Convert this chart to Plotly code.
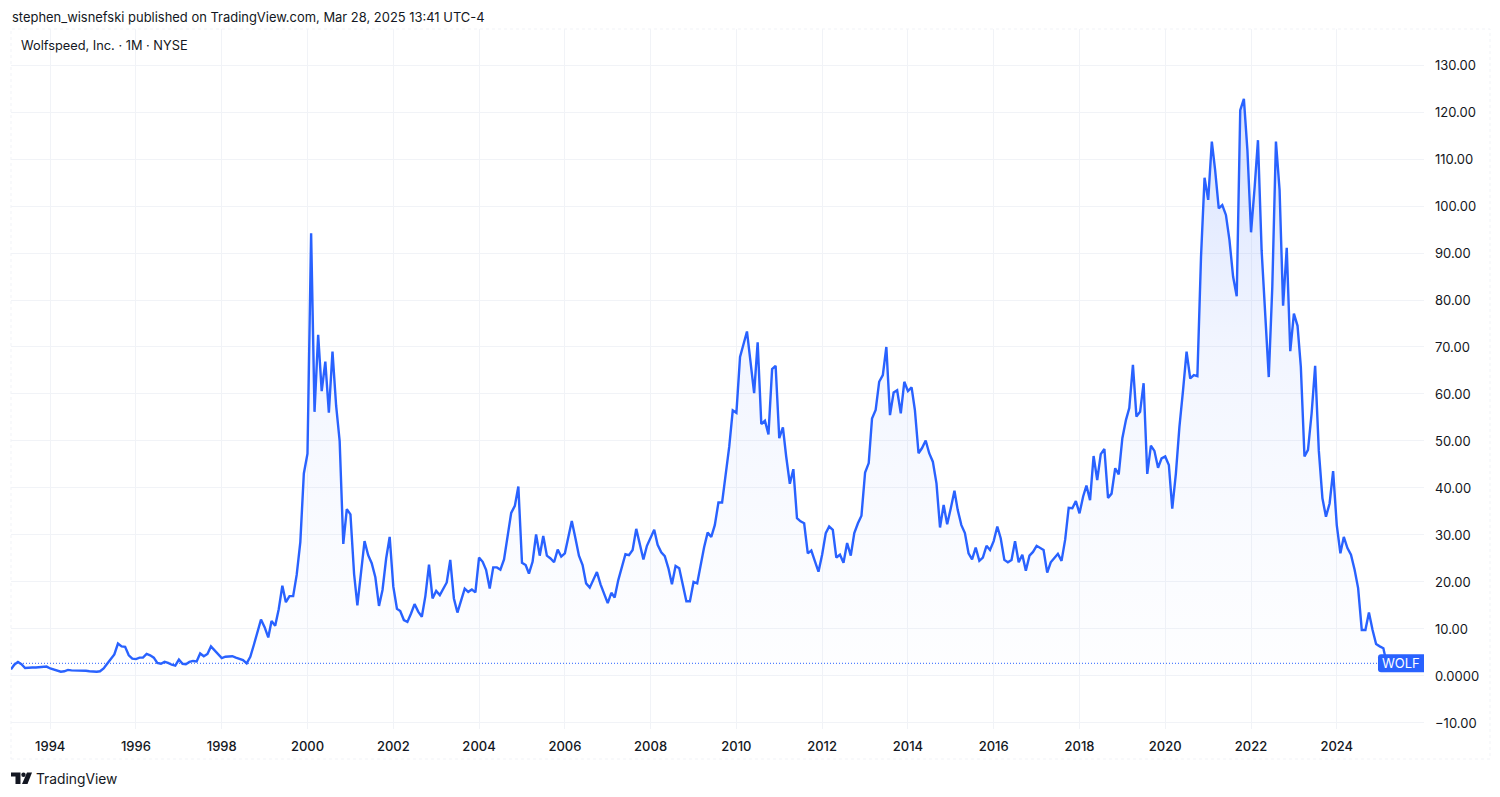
import pandas as pd
import plotly.graph_objects as go

# the page puts an 8px margin round the figure, so layout pixels are page pixels minus OFF
OFF = 8
W, H = 1500 - OFF, 797 - OFF
PL, PR, PT, PB = 11 - OFF, 1424 - OFF, 29 - OFF, 729 - OFF

close_1993 = [1.4, 2.4, 3.0, 2.5, 1.7, 1.8, 1.8, 1.8, 1.9, 2.0, 2.0]
close_1994 = [1.6, 1.4, 1.2, 0.9, 1.0, 1.3, 1.2, 1.2, 1.2, 1.2, 1.1, 1.0]
close_1995 = [0.9, 0.9, 1.0, 1.6, 2.6, 3.6, 4.6, 6.9, 6.3, 6.2, 4.4, 3.7]
close_1996 = [3.6, 3.9, 3.9, 4.7, 4.4, 3.9, 2.8, 2.6, 3.0, 2.8, 2.4, 2.2]
close_1997 = [3.5, 2.6, 2.5, 3.0, 3.2, 3.1, 4.8, 4.2, 4.7, 6.3, 5.4, 4.6]
close_1998 = [3.8, 4.1, 4.2, 4.2, 3.9, 3.7, 3.4, 2.7, 4.1, 6.6, 9.2, 12.0]
close_1999 = [10.4, 8.2, 11.7, 10.7, 14.2, 19.2, 15.7, 17.0, 17.0, 21.5, 28.5, 43.1]
close_2000 = [47.3, 94.2, 56.2, 72.6, 60.6, 66.9, 56.0, 69.0, 57.5, 50.0, 28.1, 35.5]
close_2001 = [34.4, 21.7, 15.0, 22.5, 28.7, 25.7, 24.0, 21.0, 14.9, 18.3, 25.0, 29.6]
close_2002 = [19.0, 14.3, 13.8, 11.9, 11.5, 13.3, 15.3, 13.7, 12.6, 17.0, 23.7, 16.5]
close_2003 = [18.1, 17.2, 18.6, 19.9, 24.7, 16.5, 13.5, 15.8, 18.6, 17.9, 18.4, 17.8]
close_2004 = [25.2, 24.3, 22.6, 18.6, 23.1, 23.1, 22.6, 24.8, 29.6, 34.7, 36.2, 40.3]
close_2005 = [24.1, 23.6, 21.8, 24.3, 30.1, 25.6, 29.8, 25.6, 25.0, 24.2, 26.9, 25.4]
close_2006 = [26.1, 29.6, 33.0, 29.3, 25.6, 23.6, 19.7, 18.8, 20.4, 22.1, 19.5, 17.6]
close_2007 = [15.5, 17.7, 16.7, 20.4, 22.9, 25.9, 25.7, 26.8, 31.3, 28.2, 24.8, 27.7]
close_2008 = [29.3, 31.1, 27.9, 26.3, 25.5, 22.9, 19.5, 23.4, 22.9, 19.3, 15.9, 15.9]
close_2009 = [20.0, 19.7, 23.6, 27.4, 30.5, 29.6, 32.1, 36.9, 36.9, 43.0, 48.8, 56.5]
close_2010 = [56.0, 67.9, 70.4, 73.3, 66.9, 60.2, 71.0, 53.6, 54.3, 51.4, 65.3, 66.0]
close_2011 = [50.6, 52.9, 46.7, 40.9, 44.0, 33.6, 32.9, 32.5, 26.1, 26.7, 24.4, 22.2]
close_2012 = [25.8, 30.4, 31.8, 31.1, 25.2, 25.8, 24.1, 28.3, 25.6, 30.4, 32.5, 34.1]
close_2013 = [43.3, 45.3, 54.8, 56.6, 62.6, 64.0, 70.0, 55.5, 60.3, 60.8, 55.9, 62.6]
close_2014 = [60.6, 61.4, 56.6, 47.4, 48.5, 50.1, 47.4, 45.6, 41.0, 31.6, 36.4, 32.3]
close_2015 = [35.7, 39.4, 35.3, 32.1, 30.4, 26.1, 24.8, 27.3, 24.5, 25.2, 27.7, 26.8]
close_2016 = [28.7, 31.8, 29.3, 24.7, 24.2, 24.7, 28.7, 24.2, 25.8, 22.4, 25.6, 26.4]
close_2017 = [27.7, 27.2, 26.8, 22.0, 24.2, 25.1, 26.0, 24.5, 29.0, 35.8, 35.7, 37.2]
close_2018 = [34.6, 38.2, 40.5, 37.4, 46.8, 41.7, 47.2, 48.3, 37.9, 38.8, 44.2, 42.9]
close_2019 = [50.6, 54.5, 57.0, 66.2, 55.2, 56.2, 62.3, 43.0, 49.0, 47.9, 44.3, 46.3]
close_2020 = [46.7, 44.9, 35.6, 43.1, 53.0, 60.8, 69.0, 63.3, 64.0, 63.8, 89.2, 106.0]
close_2021 = [101.3, 113.7, 107.7, 99.5, 100.2, 98.1, 92.8, 85.0, 80.8, 120.4, 122.8, 111.9]
close_2022 = [94.4, 104.1, 114.0, 90.6, 75.8, 63.6, 82.8, 113.7, 103.4, 78.8, 91.1, 69.1]
close_2023 = [77.1, 74.5, 65.8, 46.7, 48.1, 55.9, 66.0, 48.0, 37.8, 33.9, 36.7, 43.6]
close_2024 = [32.1, 26.1, 29.6, 27.2, 25.8, 22.6, 18.7, 9.8, 9.8, 13.5, 9.8, 6.8]
close_2025 = [6.3, 5.9, 2.7]

closes = (close_1993 + close_1994 + close_1995 + close_1996 + close_1997 + close_1998
          + close_1999 + close_2000 + close_2001 + close_2002 + close_2003 + close_2004
          + close_2005 + close_2006 + close_2007 + close_2008 + close_2009 + close_2010
          + close_2011 + close_2012 + close_2013 + close_2014 + close_2015 + close_2016
          + close_2017 + close_2018 + close_2019 + close_2020 + close_2021 + close_2022
          + close_2023 + close_2024 + close_2025)
dates = pd.date_range("1993-02-01", periods=len(closes), freq="MS")

year_ticks = list(range(1994, 2025, 2))
price_ticks = [-10, 0, 10, 20, 30, 40, 50, 60, 70, 80, 90, 100, 110, 120, 130]
price_labels = ["−10.00", "0.0000", "10.00", "20.00", "30.00", "40.00", "50.00", "60.00",
                "70.00", "80.00", "90.00", "100.00", "110.00", "120.00", "130.00"]
last_price = closes[-1]

BLUE = "#2962FF"
GRID = "#f1f3f7"
TEXT = "#131722"
FONT = "Inter, 'Liberation Sans', sans-serif"


def px(x):
    return (x - OFF - PL) / (PR - PL)


def py(y):
    return (PB - (y - OFF)) / (PB - PT)


fig = go.Figure()
fig.add_trace(go.Scatter(
    x=dates, y=closes, mode="lines",
    line=dict(color=BLUE, width=2.4, shape="linear"),
    fill="tozeroy",
    fillgradient=dict(type="vertical", start=-11, stop=122.8,
                      colorscale=[[0, "rgba(41,98,255,0.0)"], [0.3, "rgba(41,98,255,0.025)"],
                                  [0.6, "rgba(41,98,255,0.06)"], [1, "rgba(41,98,255,0.18)"]]),
    hoverinfo="skip", showlegend=False,
))

annotations = [
    dict(text="stephen_wisnefski published on TradingView.com, Mar 28, 2025 13:41 UTC-4",
         x=px(10.5), y=py(17), font=dict(size=12.95, color=TEXT)),
    dict(text="Wolfspeed, Inc. · 1M · NYSE", x=px(19.5), y=py(46), font=dict(size=12.8, color=TEXT)),
    dict(text="TradingView", x=px(35), y=py(778.5), font=dict(size=13.8, color=TEXT)),
]
annotations = [dict(a, xref="paper", yref="paper", xanchor="left", yanchor="middle",
                    showarrow=False, borderpad=0, align="left") for a in annotations]
annotations.append(dict(text="WOLF", xref="paper", x=1, xanchor="right", xshift=-2,
                        yref="y", y=last_price, yanchor="middle", showarrow=False,
                        font=dict(size=13, color="white")))


def poly(points):
    return "M" + " L".join(f"{px(x):.5f},{py(y):.5f}" for x, y in points) + " Z"


shapes = [
    # outer frame
    dict(type="rect", xref="paper", yref="paper", x0=px(11), x1=px(1490), y0=py(759), y1=py(29),
         line=dict(color=GRID, width=1, dash="dot"), layer="below"),
    # last price line
    dict(type="line", xref="paper", yref="y", x0=0, x1=1, y0=last_price, y1=last_price,
         line=dict(color=BLUE, width=1, dash="1px,2px")),
    # last price tag with rounded left corners
    dict(type="path", xref="paper", xsizemode="pixel", xanchor=1,
         yref="y", ysizemode="pixel", yanchor=last_price,
         path="M-43,-9 Q-46,-9 -46,-6 L-46,6 Q-46,9 -43,9 L0,9 L0,-9 Z",
         fillcolor=BLUE, line=dict(width=0)),
    # TradingView logo
    dict(type="path", xref="paper", yref="paper", fillcolor=TEXT, line=dict(width=0),
         path=poly([(11, 772.5), (20.5, 772.5), (20.5, 784), (15.5, 784), (15.5, 776.5), (11, 776.5)])),
    dict(type="circle", xref="paper", yref="paper", fillcolor=TEXT, line=dict(width=0),
         x0=px(21.3), x1=px(25.7), y0=py(776.9), y1=py(772.5)),
    dict(type="path", xref="paper", yref="paper", fillcolor=TEXT, line=dict(width=0),
         path=poly([(27, 772.5), (32, 772.5), (27.5, 784), (22, 784)])),
]

fig.update_layout(
    width=W, height=H, autosize=False,
    margin=dict(l=PL, r=W - PR, t=PT, b=H - PB, pad=0),
    paper_bgcolor="white", plot_bgcolor="white",
    font=dict(family=FONT, color=TEXT, size=13),
    annotations=annotations, shapes=shapes,
    xaxis=dict(
        type="date", range=["1993-02-01", "2026-01-13"],
        tickvals=[f"{y}-01-01" for y in year_ticks], ticktext=[str(y) for y in year_ticks],
        showgrid=True, gridcolor=GRID, gridwidth=1, zeroline=False, showline=False,
        ticks="", ticklabelstandoff=8, tickfont=dict(size=13, color=TEXT, weight=500),
    ),
    yaxis=dict(
        side="right", range=[-11.28, 137.66],
        tickvals=price_ticks, ticktext=price_labels,
        showgrid=True, gridcolor=GRID, gridwidth=1, zeroline=False, showline=False,
        ticks="", ticklabelstandoff=10, tickfont=dict(size=13, color=TEXT),
    ),
)

fig.write_html("out.html", config=dict(displayModeBar=False))
